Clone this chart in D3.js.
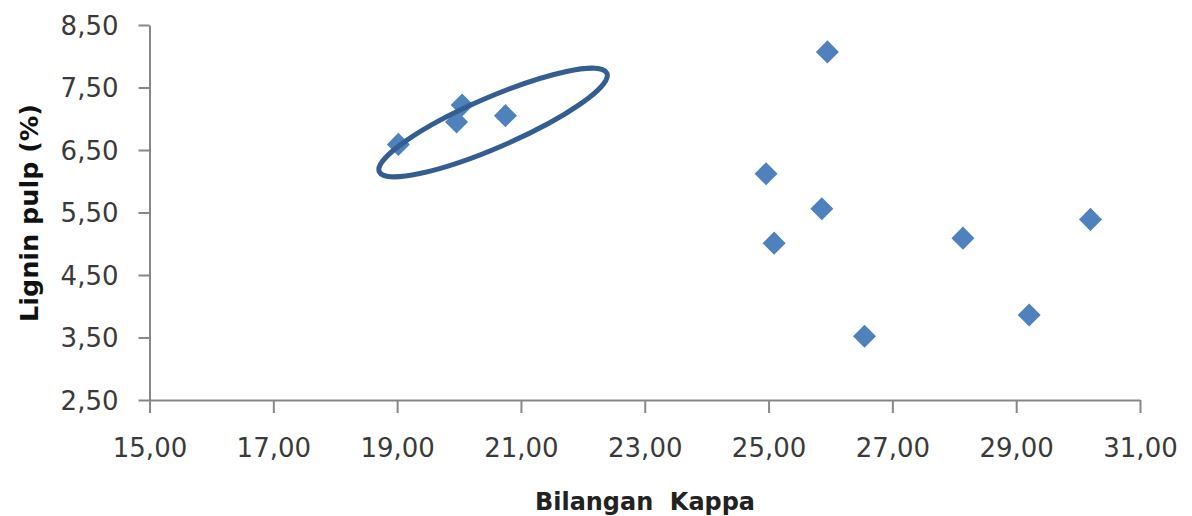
<!DOCTYPE html>
<html>
<head>
<meta charset="utf-8">
<script src="https://cdn.jsdelivr.net/npm/d3@7"></script>
<style>
  html, body { margin: 0; padding: 0; background: #fff; }
  svg { display: block; }
</style>
</head>
<body>
<svg id="chart" width="1192" height="516"></svg>
<script>
// ---- data ----
const kappa  = [19.02, 19.96, 20.05, 20.75, 24.96, 25.09, 25.86, 25.95, 26.55, 28.14, 29.21, 30.20];
const lignin = [6.59, 6.95, 7.22, 7.05, 6.12, 5.01, 5.56, 8.07, 3.52, 5.09, 3.86, 5.39];
const xTicks = [15, 17, 19, 21, 23, 25, 27, 29, 31];
const yTicks = [2.5, 3.5, 4.5, 5.5, 6.5, 7.5, 8.5];
const xTitle = "Bilangan  Kappa";
const yTitle = "Lignin pulp (%)";
// highlighted group (ellipse annotation), centre in data units
const ellipseCenter = [20.55, 6.94];

// ---- layout ----
const svg = d3.select("#chart");
const mLeft = 149.5, mRight = 1140, mTop = 25, mBottom = 400;
const x = d3.scaleLinear().domain([15, 31]).range([mLeft, mRight]);
const y = d3.scaleLinear().domain([2.5, 8.5]).range([mBottom, mTop]);
const fmt = v => d3.format(".2f")(v).replace(".", ",");
const axisColor = "#878787";
const textColor = "#3a3a3a";

// y axis
const gy = svg.append("g").attr("transform", `translate(${mLeft},0)`)
  .call(d3.axisLeft(y).tickValues(yTicks).tickSize(11).tickSizeOuter(0).tickFormat(fmt));
gy.select(".domain").attr("stroke", axisColor).attr("stroke-width", 2);
gy.selectAll(".tick line").attr("stroke", axisColor).attr("stroke-width", 2);
gy.selectAll(".tick text")
  .attr("x", -31).attr("dy", "0.36em")
  .attr("fill", textColor)
  .style("font-family", "'DejaVu Sans', sans-serif")
  .style("font-size", "26px");

// x axis
const gx = svg.append("g").attr("transform", `translate(0,${mBottom})`)
  .call(d3.axisBottom(x).tickValues(xTicks).tickSize(13).tickSizeOuter(0).tickFormat(fmt));
gx.select(".domain").attr("stroke", axisColor).attr("stroke-width", 2);
gx.selectAll(".tick line").attr("stroke", axisColor).attr("stroke-width", 2);
gx.selectAll(".tick text")
  .attr("y", 57).attr("dy", 0)
  .attr("fill", textColor)
  .style("font-family", "'DejaVu Sans', sans-serif")
  .style("font-size", "26px");

// titles
svg.append("text")
  .attr("transform", `translate(38,${213}) rotate(-90)`)
  .attr("text-anchor", "middle")
  .attr("fill", "#111")
  .attr("textLength", 218).attr("lengthAdjust", "spacingAndGlyphs")
  .style("font-family", "'DejaVu Sans', sans-serif")
  .style("font-weight", "bold")
  .style("font-size", "24px")
  .text(yTitle);

svg.append("text")
  .attr("x", 645).attr("y", 510)
  .attr("text-anchor", "middle")
  .attr("fill", "#222")
  .attr("textLength", 220).attr("lengthAdjust", "spacingAndGlyphs")
  .style("white-space", "pre")
  .style("font-family", "'DejaVu Sans', sans-serif")
  .style("font-weight", "bold")
  .style("font-size", "25px")
  .text(xTitle);

// points
const pts = kappa.map((k, i) => ({ k, l: lignin[i] }));
const diamond = d3.symbol().type(d3.symbolSquare).size(265);
svg.append("g").selectAll("path").data(pts).join("path")
  .attr("d", diamond)
  .attr("transform", d => `translate(${x(d.k)},${y(d.l)}) rotate(45)`)
  .attr("fill", "#4F81BD");

// ellipse annotation
svg.append("ellipse")
  .attr("cx", 0).attr("cy", 0).attr("rx", 124).attr("ry", 25)
  .attr("transform", `translate(${x(ellipseCenter[0])},${y(ellipseCenter[1])}) rotate(-23.4)`)
  .attr("fill", "none")
  .attr("stroke", "#345E90")
  .attr("stroke-width", 5);
</script>
</body>
</html>
